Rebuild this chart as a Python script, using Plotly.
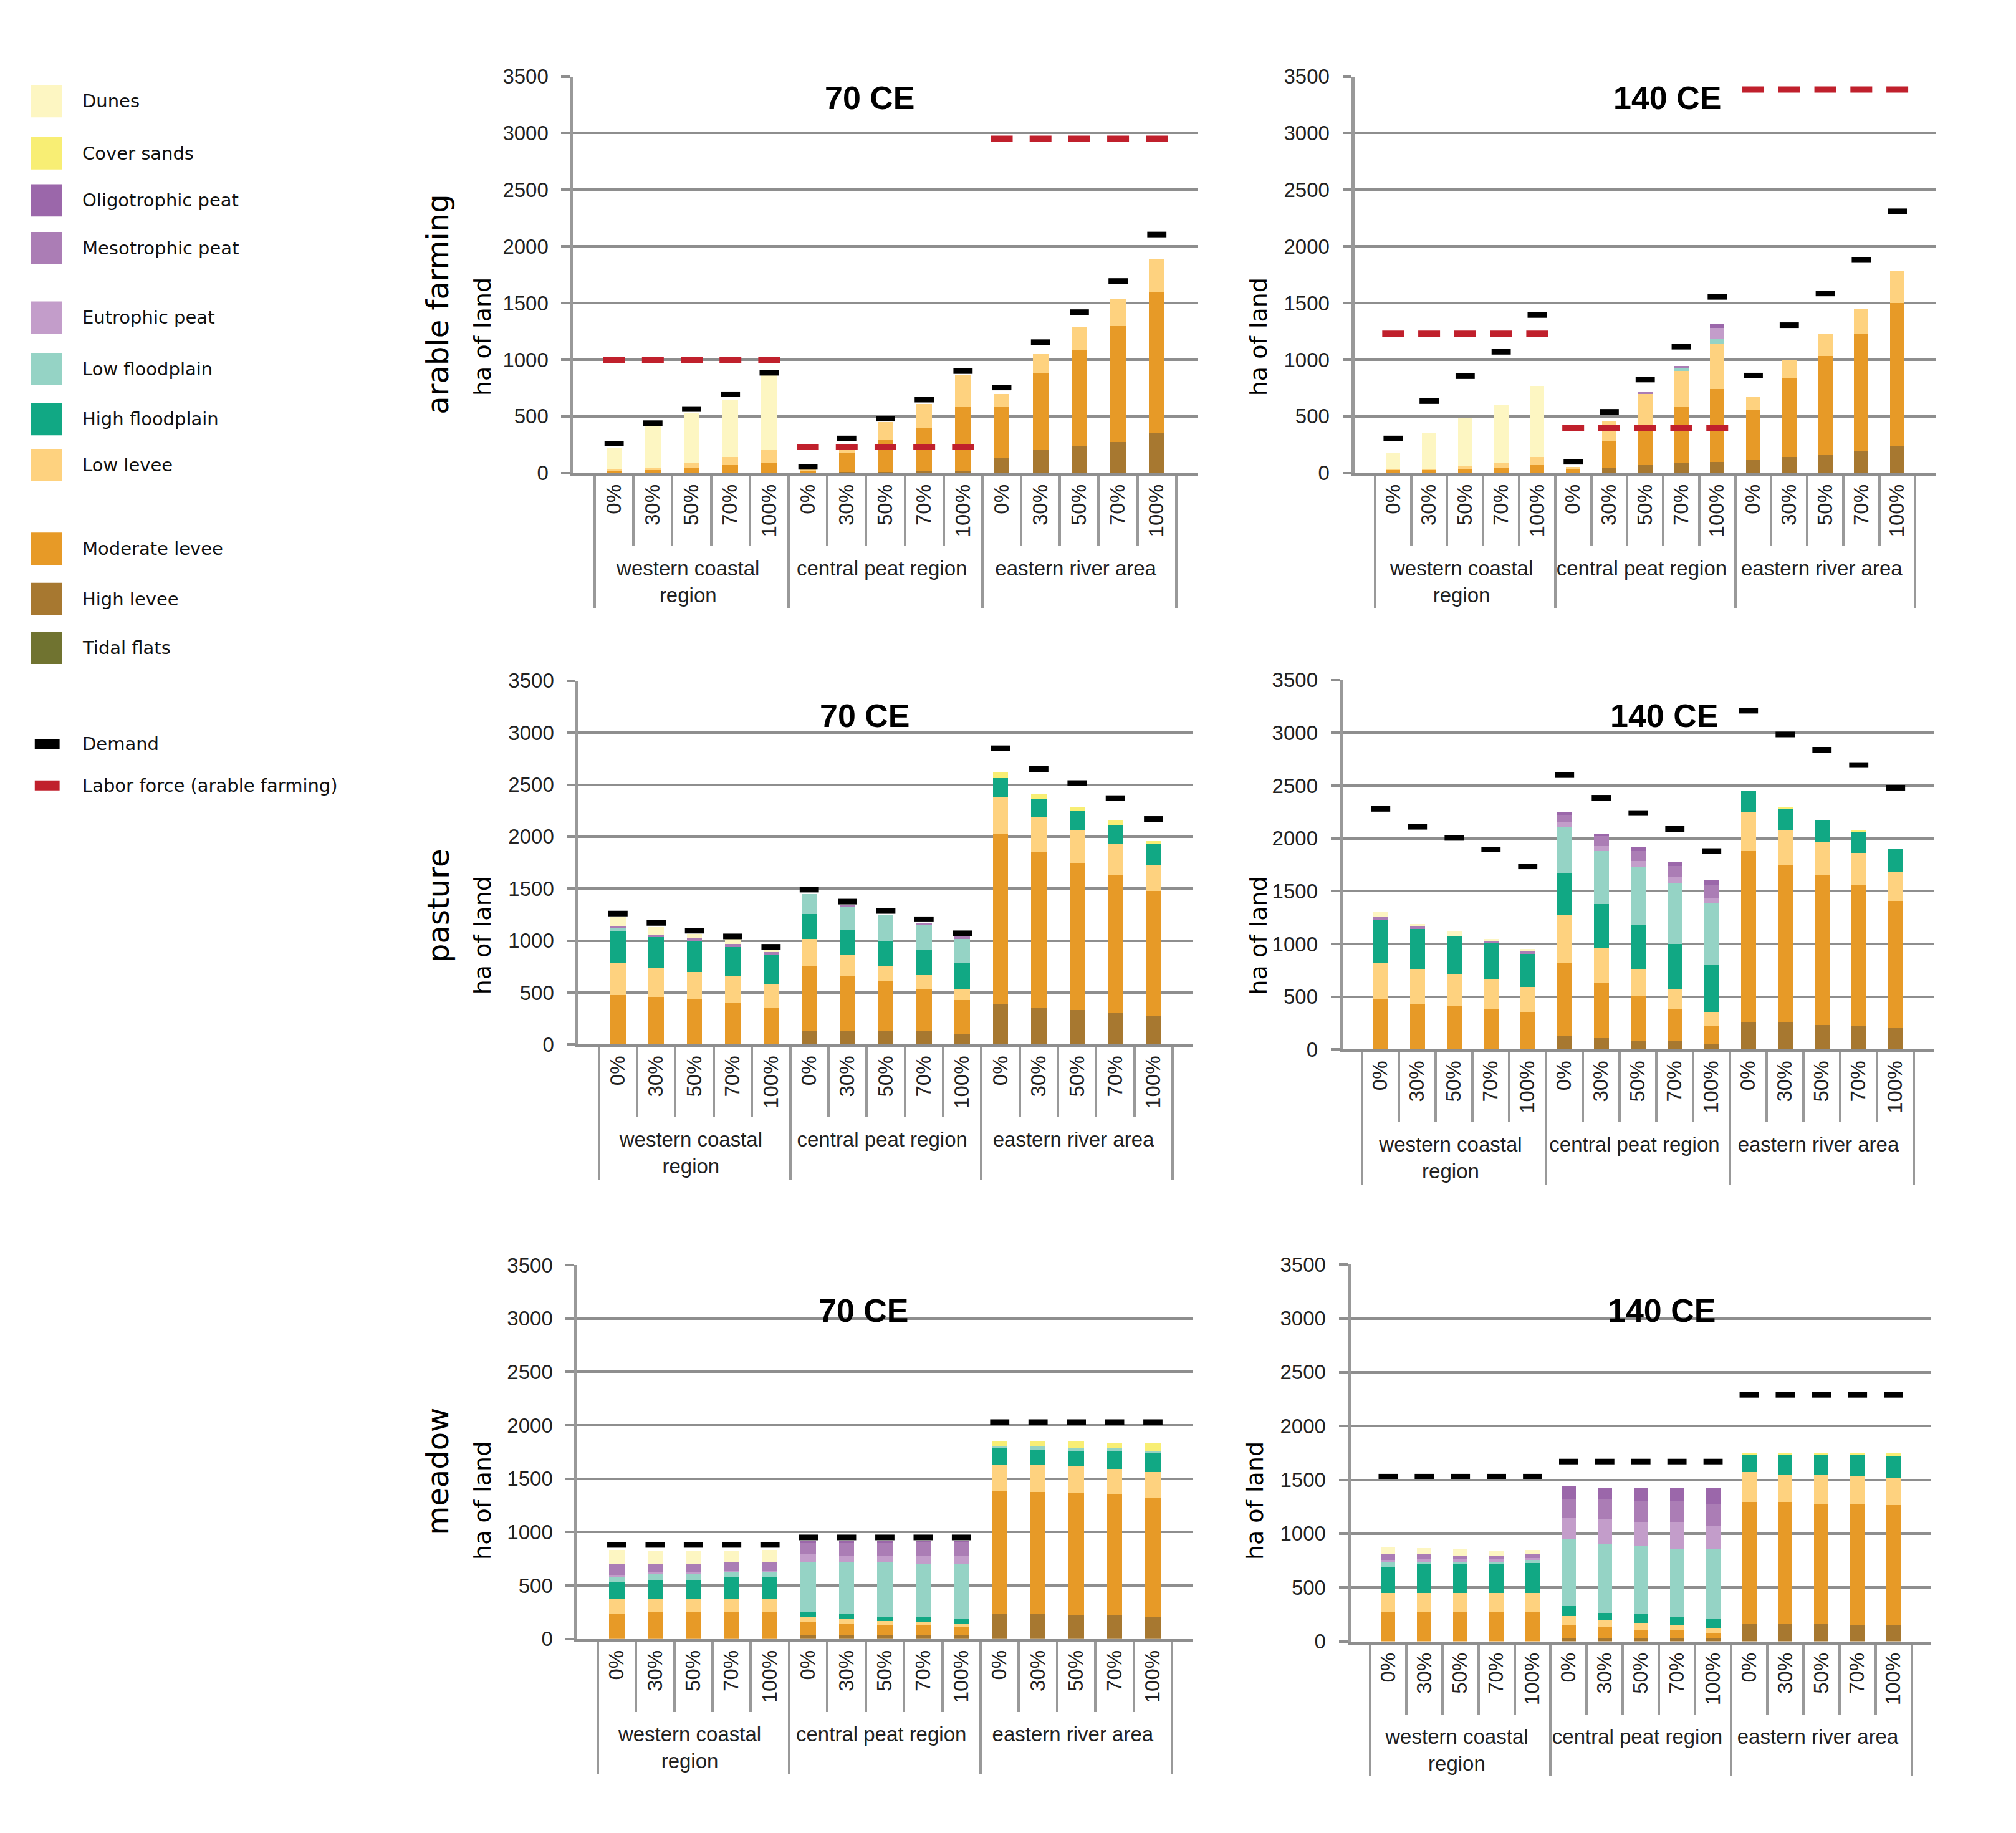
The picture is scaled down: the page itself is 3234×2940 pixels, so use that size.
import plotly.graph_objects as go

W, H = 3234, 2940

REGIONS = ["western coastal<br>region", "central peat region", "eastern river area"]
SCENARIOS = ["0%", "30%", "50%", "70%", "100%"]

LAYERS = ["Tidal flats", "High levee", "Moderate levee", "Low levee", "High floodplain",
          "Low floodplain", "Eutrophic peat", "Mesotrophic peat", "Oligotrophic peat",
          "Cover sands", "Dunes"]
COLORS = {
    "Dunes": "#FDF6C2", "Cover sands": "#F8EE74", "Oligotrophic peat": "#9B67AA",
    "Mesotrophic peat": "#AB7DB5", "Eutrophic peat": "#C39DCA", "Low floodplain": "#95D3C5",
    "High floodplain": "#11A884", "Low levee": "#FED27F", "Moderate levee": "#E79A27",
    "High levee": "#A77830", "Tidal flats": "#707330",
}
Z5 = [0, 0, 0, 0, 0]

# ---------- arable farming, 70 CE ----------
ARABLE_70 = {
    "High levee":     Z5 + [0, 10, 10, 20, 20] + [135, 200, 235, 275, 350],
    "Moderate levee": [20, 25, 50, 70, 90] + [25, 165, 280, 380, 560] + [445, 685, 855, 1020, 1245],
    "Low levee":      [10, 20, 45, 70, 115] + [5, 40, 160, 210, 280] + [115, 165, 200, 240, 290],
    "Dunes":          [190, 365, 440, 510, 655] + Z5 + Z5,
}
ARABLE_70_DEMAND = [260, 440, 565, 695, 885, 55, 305, 480, 648, 900, 755, 1155, 1420, 1695, 2105]
ARABLE_70_LABOR = [1000, 1000, 1000, 1000, 1000, 230, 230, 230, 230, 230, 2950, 2950, 2950, 2950, 2950]

# ---------- arable farming, 140 CE ----------
ARABLE_140 = {
    "High levee":       Z5 + [0, 50, 70, 90, 100] + [115, 140, 165, 190, 235],
    "Moderate levee":   [25, 25, 40, 50, 70] + [40, 230, 300, 490, 640] + [445, 695, 870, 1035, 1265],
    "Low levee":        [15, 15, 25, 40, 70] + [15, 175, 330, 320, 400] + [110, 160, 190, 220, 285],
    "Low floodplain":   Z5 + [0, 0, 0, 25, 40] + Z5,
    "Eutrophic peat":   Z5 + [0, 0, 0, 0, 100] + Z5,
    "Mesotrophic peat": Z5 + [0, 0, 20, 20, 0] + Z5,
    "Oligotrophic peat": Z5 + [0, 0, 0, 0, 40] + Z5,
    "Dunes":            [140, 315, 425, 515, 630] + Z5 + Z5,
}
ARABLE_140_DEMAND = [305, 635, 855, 1070, 1395, 100, 540, 825, 1115, 1555, 860, 1305, 1585, 1880, 2310]
ARABLE_140_LABOR = [1230, 1230, 1230, 1230, 1230, 400, 400, 400, 400, 400, 3385, 3385, 3385, 3385, 3385]

# ---------- pasture, 70 CE ----------
PASTURE_70 = {
    "High levee":       Z5 + [125, 125, 125, 125, 100] + [385, 350, 330, 305, 280],
    "Moderate levee":   [475, 455, 435, 405, 355] + [635, 535, 490, 410, 330] + [1640, 1505, 1420, 1330, 1195],
    "Low levee":        [310, 285, 265, 255, 230] + [255, 205, 145, 130, 100] + [355, 330, 310, 300, 255],
    "High floodplain":  [310, 295, 300, 280, 280] + [240, 235, 240, 250, 255] + [185, 180, 185, 175, 200],
    "Low floodplain":   [20, 0, 0, 0, 0] + [190, 220, 245, 230, 230] + Z5,
    "Mesotrophic peat": [25, 25, 25, 25, 25] + [0, 25, 0, 25, 25] + Z5,
    "Cover sands":      Z5 + Z5 + [50, 50, 40, 50, 30],
    "Dunes":            [85, 70, 40, 50, 25] + Z5 + Z5,
}
PASTURE_70_DEMAND = [1260, 1170, 1095, 1040, 940, 1490, 1375, 1285, 1205, 1070, 2850, 2650, 2515, 2370, 2170]

# ---------- pasture, 140 CE ----------
PASTURE_140 = {
    "High levee":        Z5 + [125, 105, 80, 80, 50] + [255, 255, 230, 220, 205],
    "Moderate levee":    [480, 435, 410, 385, 355] + [700, 520, 425, 300, 175] + [1625, 1490, 1425, 1335, 1205],
    "Low levee":         [335, 320, 300, 285, 240] + [455, 335, 250, 195, 130] + [375, 335, 305, 305, 275],
    "High floodplain":   [415, 385, 360, 335, 310] + [395, 420, 425, 425, 445] + [200, 200, 215, 195, 210],
    "Low floodplain":    Z5 + [430, 500, 550, 580, 585] + Z5,
    "Eutrophic peat":    Z5 + [50, 45, 55, 55, 45] + Z5,
    "Mesotrophic peat":  [25, 25, 0, 25, 25] + [65, 95, 95, 105, 125] + Z5,
    "Oligotrophic peat": Z5 + [35, 25, 40, 40, 45] + Z5,
    "Cover sands":       Z5 + Z5 + [0, 20, 0, 25, 0],
    "Dunes":             [45, 25, 55, 20, 25] + Z5 + Z5,
}
PASTURE_140_DEMAND = [2280, 2110, 2005, 1895, 1735, 2600, 2385, 2240, 2090, 1880, 3210, 2985, 2840, 2695, 2480]

# ---------- meadow, 70 CE ----------
MEADOW_70 = {
    "High levee":        Z5 + [35, 35, 35, 35, 35] + [235, 235, 220, 220, 210],
    "Moderate levee":    [235, 250, 250, 250, 250] + [120, 105, 100, 100, 80] + [1155, 1140, 1145, 1130, 1115],
    "Low levee":         [140, 125, 125, 125, 125] + [55, 50, 30, 25, 30] + [245, 250, 250, 240, 240],
    "High floodplain":   [160, 180, 180, 200, 200] + [40, 45, 45, 45, 45] + [150, 150, 145, 170, 170],
    "Low floodplain":    [45, 50, 50, 45, 45] + [470, 485, 510, 500, 515] + [25, 30, 25, 25, 25],
    "Eutrophic peat":    [20, 20, 20, 20, 20] + [75, 55, 55, 75, 75] + Z5,
    "Mesotrophic peat":  [105, 80, 80, 80, 80] + [100, 125, 125, 125, 125] + Z5,
    "Oligotrophic peat": Z5 + [20, 20, 20, 15, 15] + Z5,
    "Cover sands":       Z5 + Z5 + [45, 45, 65, 50, 70],
    "Dunes":             [125, 115, 120, 100, 110] + Z5 + Z5,
}
MEADOW_70_DEMAND = [880, 880, 880, 880, 880, 950, 950, 950, 950, 950, 2030, 2030, 2030, 2030, 2030]

# ---------- meadow, 140 CE ----------
MEADOW_140 = {
    "High levee":        Z5 + [35, 35, 35, 35, 35] + [165, 165, 165, 155, 155],
    "Moderate levee":    [270, 275, 275, 275, 275] + [115, 100, 70, 70, 45] + [1130, 1130, 1115, 1120, 1110],
    "Low levee":         [180, 175, 175, 175, 175] + [85, 60, 65, 45, 45] + [275, 250, 265, 265, 255],
    "High floodplain":   [245, 265, 265, 265, 280] + [95, 70, 80, 75, 80] + [165, 190, 190, 195, 200],
    "Low floodplain":    [40, 25, 25, 25, 25] + [625, 640, 640, 635, 655] + Z5,
    "Eutrophic peat":    [20, 20, 25, 20, 20] + [195, 225, 220, 250, 215] + Z5,
    "Mesotrophic peat":  [60, 55, 30, 35, 35] + [175, 195, 190, 190, 200] + Z5,
    "Oligotrophic peat": Z5 + [115, 95, 120, 120, 145] + Z5,
    "Cover sands":       Z5 + Z5 + [20, 20, 20, 20, 25],
    "Dunes":             [65, 50, 60, 45, 40] + Z5 + Z5,
}
MEADOW_140_DEMAND = [1530, 1530, 1530, 1530, 1530, 1670, 1670, 1670, 1670, 1670, 2290, 2290, 2290, 2290, 2290]

X_CATS = [[r for r in REGIONS for _ in SCENARIOS], [s for _ in REGIONS for s in SCENARIOS]]


# pixel -> paper helpers (with a small calibration of the captured page)
def fx(px):
    return (px / 1.0039) / W


def fy(py):
    return 1 - ((py - 17.8) / 0.9933) / H


# panel layout in pixels: box=(left, right, top, bottom), title=(x, y)
PANELS = [
    dict(data=ARABLE_70, demand=ARABLE_70_DEMAND, labor=ARABLE_70_LABOR, title="70 CE",
         box=(923, 1929, 123, 763), tpos=(1401, 158)),
    dict(data=ARABLE_140, demand=ARABLE_140_DEMAND, labor=ARABLE_140_LABOR, title="140 CE",
         box=(2181, 3118, 123, 763), tpos=(2685, 158)),
    dict(data=PASTURE_70, demand=PASTURE_70_DEMAND, labor=None, title="70 CE",
         box=(932, 1921, 1098, 1685), tpos=(1393, 1155)),
    dict(data=PASTURE_140, demand=PASTURE_140_DEMAND, labor=None, title="140 CE",
         box=(2162, 3114, 1097, 1693), tpos=(2680, 1155)),
    dict(data=MEADOW_70, demand=MEADOW_70_DEMAND, labor=None, title="70 CE",
         box=(930, 1920, 2041, 2644), tpos=(1391, 2114)),
    dict(data=MEADOW_140, demand=MEADOW_140_DEMAND, labor=None, title="140 CE",
         box=(2175, 3110, 2040, 2648), tpos=(2676, 2114)),
]

GRID = "#8E8E8E"
NARROW = "Liberation Sans Narrow, Liberation Sans, Arial, sans-serif"
WIDE = "DejaVu Sans, Verdana, sans-serif"

fig = go.Figure()
layout = {}
annotations = []
shapes = []

for i, p in enumerate(PANELS, start=1):
    xa = "x" if i == 1 else f"x{i}"
    ya = "y" if i == 1 else f"y{i}"
    for layer in LAYERS:
        if layer not in p["data"]:
            continue
        fig.add_trace(go.Bar(
            x=X_CATS, y=p["data"][layer], name=layer, xaxis=xa, yaxis=ya,
            marker=dict(color=COLORS[layer], line=dict(width=0)), showlegend=False,
        ))
    fig.add_trace(go.Scatter(
        x=X_CATS, y=p["demand"], mode="markers", name="Demand", xaxis=xa, yaxis=ya,
        marker=dict(symbol="line-ew", size=22, line=dict(width=9, color="#000000")),
        showlegend=False, cliponaxis=False,
    ))
    if p["labor"] is not None:
        fig.add_trace(go.Scatter(
            x=X_CATS, y=p["labor"], mode="markers", name="Labor force (arable farming)", xaxis=xa, yaxis=ya,
            marker=dict(symbol="line-ew", size=25, line=dict(width=10, color="#C0202C")),
            showlegend=False, cliponaxis=False,
        ))
    l, r, t, b = p["box"]
    key = "" if i == 1 else str(i)
    layout["xaxis" + key] = dict(
        domain=[fx(l), fx(r)], anchor=ya, type="multicategory",
        showgrid=False, showline=True, linecolor=GRID, linewidth=5,
        tickson="boundaries", ticks="outside", ticklen=112, tickwidth=4, tickcolor="#999999",
        tickangle=-90, tickfont=dict(family=NARROW, size=33, color="#222222"),
        showdividers=True, dividercolor="#999999", dividerwidth=4,
    )
    layout["yaxis" + key] = dict(
        domain=[fy(b), fy(t)], anchor=xa, range=[0, 3500], dtick=500,
        showgrid=True, gridcolor=GRID, gridwidth=4, zeroline=False,
        showline=True, linecolor="#999999", linewidth=5,
        ticks="outside", ticklen=14, tickwidth=4, tickcolor=GRID,
        ticklabelstandoff=14,
        tickfont=dict(family=NARROW, size=33, color="#222222"),
    )
    tx, ty = p["tpos"]
    annotations.append(dict(
        text="<b>" + p["title"] + "</b>", x=fx(tx), y=fy(ty),
        xref="paper", yref="paper", showarrow=False, xanchor="center", yanchor="middle",
        font=dict(family=NARROW, size=52, color="#000000"),
    ))

# row labels
ROW_LABELS = [
    ("arable farming", 705, 491, 48), ("ha of land", 777, 543, 38), ("ha of land", 2027, 543, 38),
    ("pasture", 705, 1461, 48), ("ha of land", 777, 1509, 38), ("ha of land", 2027, 1509, 38),
    ("meadow", 705, 2374, 48), ("ha of land", 777, 2421, 38), ("ha of land", 2021, 2421, 38),
]
for txt, px, py, fs in ROW_LABELS:
    annotations.append(dict(
        text=txt, x=fx(px), y=fy(py), xref="paper", yref="paper", showarrow=False,
        textangle=-90, xanchor="center", yanchor="middle",
        font=dict(family=WIDE, size=fs, color="#000000"),
    ))

# legend (left column)
LEGEND_ITEMS = [
    ("Dunes", 163, "box"), ("Cover sands", 247, "box"), ("Oligotrophic peat", 323, "box"),
    ("Mesotrophic peat", 400, "box"), ("Eutrophic peat", 512, "box"), ("Low floodplain", 595, "box"),
    ("High floodplain", 676, "box"), ("Low levee", 750, "box"), ("Moderate levee", 885, "box"),
    ("High levee", 966, "box"), ("Tidal flats", 1045, "box"),
    ("Demand", 1200, "line"), ("Labor force (arable farming)", 1267, "line"),
]
for name, py, kind in LEGEND_ITEMS:
    if kind == "box":
        color = COLORS[name]
        shapes.append(dict(type="rect", xref="paper", yref="paper",
                           x0=fx(50), x1=fx(100), y0=fy(py + 26), y1=fy(py - 26),
                           fillcolor=color, line=dict(width=0)))
    else:
        color = "#000000" if name == "Demand" else "#C0202C"
        shapes.append(dict(type="rect", xref="paper", yref="paper",
                           x0=fx(56), x1=fx(96), y0=fy(py + 8), y1=fy(py - 8),
                           fillcolor=color, line=dict(width=0)))
    annotations.append(dict(
        text=name, x=fx(131), y=fy(py), xref="paper", yref="paper", showarrow=False,
        xanchor="left", yanchor="middle", font=dict(family=WIDE, size=29, color="#111111"),
    ))

fig.update_layout(
    width=W, height=H, margin=dict(l=0, r=0, t=0, b=0),
    paper_bgcolor="white", plot_bgcolor="white",
    barmode="stack", bargap=0.6, showlegend=False,
    annotations=annotations, shapes=shapes, **layout,
)

fig.write_html(
    "out.html",
    config={"displayModeBar": False},
    post_script="document.body.style.margin='0px';document.body.style.overflow='hidden';",
)
